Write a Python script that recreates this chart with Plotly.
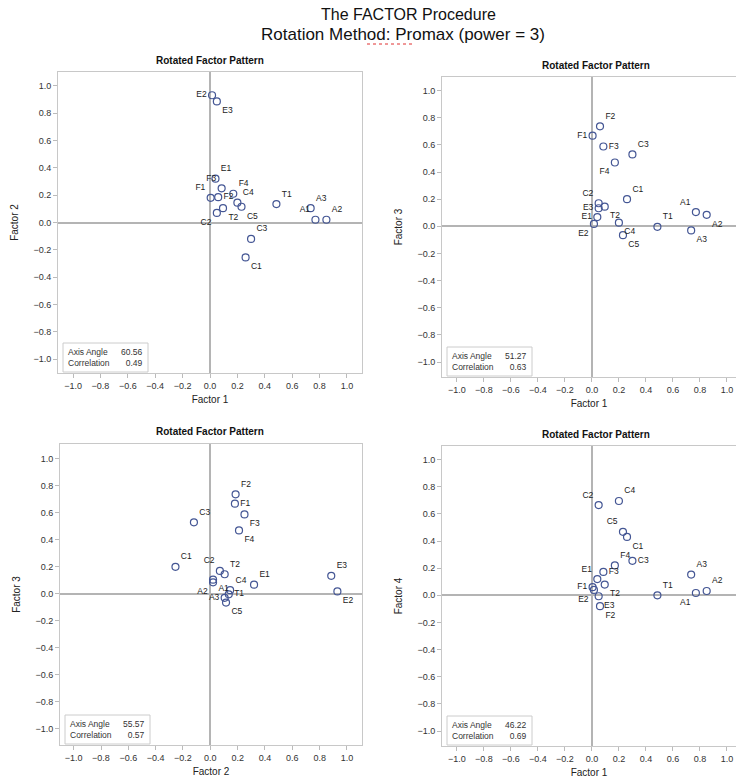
import plotly.graph_objects as go

# ---- data: rotated factor pattern ----
variables = ["A1", "A2", "A3", "C1", "C2", "C3", "C4", "C5", "E1", "E2", "E3",
             "F1", "F2", "F3", "F4", "T1", "T2"]
factor1 = [0.77, 0.85, 0.735, 0.26, 0.05, 0.30, 0.20, 0.23, 0.04, 0.015, 0.05,
           0.005, 0.06, 0.085, 0.17, 0.485, 0.095]
factor2 = [0.02, 0.02, 0.105, -0.255, 0.07, -0.12, 0.145, 0.115, 0.32, 0.93, 0.885,
           0.18, 0.185, 0.25, 0.21, 0.135, 0.105]
factor3 = [0.105, 0.085, -0.03, 0.20, 0.17, 0.53, 0.027, -0.065, 0.068, 0.018, 0.133,
           0.668, 0.737, 0.588, 0.47, -0.004, 0.145]
factor4 = [0.017, 0.032, 0.153, 0.43, 0.665, 0.254, 0.695, 0.468, 0.12, 0.04, -0.007,
           0.06, -0.08, 0.172, 0.22, 0.0, 0.079]

axis_angles = ["60.56", "51.27", "55.57", "46.22"]
correlations = ["0.49", "0.63", "0.57", "0.69"]
tick_values = [-1.0, -0.8, -0.6, -0.4, -0.2, 0.0, 0.2, 0.4, 0.6, 0.8, 1.0]

factors = {1: factor1, 2: factor2, 3: factor3, 4: factor4}

# label positions per panel (style)
TR, TL, BR, BL, ML, MR = "top right", "top left", "bottom right", "bottom left", "middle left", "middle right"
# order: A1 A2 A3 C1 C2 C3 C4 C5 E1 E2 E3 F1 F2 F3 F4 T1 T2
pos1 = [TL, TR, TR, BR, BL, TR, TR, BR, TR, ML, BR, TL, MR, TL, TR, TR, BR]
pos2 = [TL, BR, BR, TR, TL, TR, BR, BR, ML, BL, ML, ML, TR, MR, BL, TR, BR]
pos3 = [BR, BL, ML, TR, TL, TR, TR, BR, TR, BR, TR, MR, TR, BR, BR, MR, TR]
pos4 = [BL, TR, TR, BR, TL, MR, TR, TL, TL, BL, BR, ML, BR, MR, TR, TR, BR]

W, H = 736, 784


def fx(p):
    return p / W


def fy(p):
    return 1 - p / H


panels = [
    dict(xf=1, yf=2, dom=(58, 362, 72, 373), xr=(-1.11, 1.11), yr=(-1.10, 1.10), pos=pos1),
    dict(xf=1, yf=3, dom=(442, 736, 77, 377), xr=(-1.11, 1.067), yr=(-1.11, 1.10), pos=pos2),
    dict(xf=2, yf=3, dom=(60, 362, 444, 745), xr=(-1.10, 1.11), yr=(-1.12, 1.11), pos=pos3),
    dict(xf=1, yf=4, dom=(442, 736, 446, 746), xr=(-1.11, 1.067), yr=(-1.11, 1.10), pos=pos4),
]

FONT = "Arial, Liberation Sans, sans-serif"
MARK = "#445694"
FRAME = "#c8c8c8"
ZERO = "#b4b4b4"
TICKFONT = dict(family=FONT, size=9, color="#333333")

fig = go.Figure()
annotations = []
shapes = []

for i, p in enumerate(panels):
    k = "" if i == 0 else str(i + 1)
    x0, x1, y0, y1 = p["dom"]
    fig.add_trace(go.Scatter(
        x=factors[p["xf"]], y=factors[p["yf"]], text=variables,
        mode="markers+text", textposition=p["pos"],
        textfont=dict(family=FONT, size=8.5, color="#222222"),
        marker=dict(symbol="circle-open", size=7, color=MARK, line=dict(width=1.2, color=MARK)),
        xaxis="x" + k, yaxis="y" + k, showlegend=False, cliponaxis=False, hoverinfo="text",
    ))
    common = dict(showline=True, mirror=True, linecolor=FRAME, linewidth=1,
                  ticks="outside", ticklen=4, tickcolor="#bbbbbb", tickvals=tick_values,
                  tickformat=".1f", tickfont=TICKFONT, showgrid=False,
                  zeroline=True, zerolinecolor=ZERO, zerolinewidth=1.5)
    fig.layout["xaxis" + k] = dict(common, domain=[fx(x0), fx(x1)], range=list(p["xr"]),
                                   anchor="y" + k,
                                   title=dict(text="Factor %d" % p["xf"], standoff=6,
                                              font=dict(family=FONT, size=10, color="#222222")))
    fig.layout["yaxis" + k] = dict(common, domain=[fy(y1), fy(y0)], range=list(p["yr"]),
                                   anchor="x" + k,
                                   title=dict(text="Factor %d" % p["yf"], standoff=12,
                                              font=dict(family=FONT, size=10, color="#222222")))
    # panel title
    cx = 210 if i in (0, 2) else 596
    annotations.append(dict(text="<b>Rotated Factor Pattern</b>", x=fx(cx), y=fy(y0 - 12),
                            xref="paper", yref="paper", showarrow=False,
                            xanchor="center", yanchor="middle",
                            font=dict(family=FONT, size=10, color="#111111")))
    # inset box
    bx0, bx1 = x0 + 5, x0 + 90
    by0, by1 = y1 - 30, y1 - 1
    shapes.append(dict(type="rect", xref="paper", yref="paper",
                       x0=fx(bx0), x1=fx(bx1), y0=fy(by1), y1=fy(by0),
                       line=dict(color="#cccccc", width=1), fillcolor="white", layer="above"))
    annotations.append(dict(text="Axis Angle<br>Correlation", x=fx(bx0 + 3), y=fy(by0 + 14.5),
                            xref="paper", yref="paper", xanchor="left", yanchor="middle",
                            align="left", showarrow=False,
                            font=dict(family=FONT, size=8.5, color="#333333")))
    annotations.append(dict(text=axis_angles[i] + "<br>" + correlations[i], x=fx(bx1 - 3), y=fy(by0 + 14.5),
                            xref="paper", yref="paper", xanchor="right", yanchor="middle",
                            align="right", showarrow=False,
                            font=dict(family=FONT, size=8.5, color="#333333")))

annotations.append(dict(text="The FACTOR Procedure", x=fx(408), y=fy(14), xref="paper", yref="paper",
                        xanchor="center", yanchor="middle",
                        showarrow=False, font=dict(family=FONT, size=16, color="#111111")))
annotations.append(dict(text="Rotation Method: Promax (power = 3)", x=fx(403), y=fy(34), xref="paper", yref="paper",
                        xanchor="center", yanchor="middle",
                        showarrow=False, font=dict(family=FONT, size=17, color="#111111")))
# spell-check style squiggle under "Promax"
shapes.append(dict(type="line", xref="paper", yref="paper", x0=fx(367), x1=fx(414), y0=fy(44), y1=fy(44),
                   line=dict(color="#e03030", width=1, dash="dot")))

fig.update_layout(width=W, height=H, margin=dict(l=0, r=0, t=0, b=0),
                  paper_bgcolor="white", plot_bgcolor="white",
                  annotations=annotations, shapes=shapes)

fig.write_html("out.html", config={"displayModeBar": False},
               post_script="document.body.style.margin='0';document.body.style.overflow='hidden';")
